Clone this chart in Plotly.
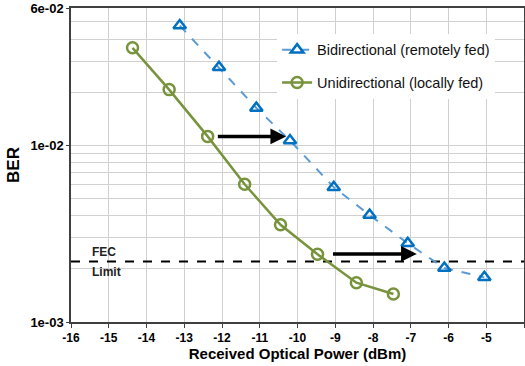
import numpy as np
import plotly.graph_objects as go

# Data
bi_x = [-13.12, -12.08, -11.09, -10.2, -9.04, -8.09, -7.08, -6.11, -5.05]
bi_ber = [0.0477, 0.0277, 0.0163, 0.01066, 0.0058, 0.00403, 0.00279, 0.00202, 0.00179]
uni_x = [-14.37, -13.4, -12.38, -11.4, -10.45, -9.47, -8.44, -7.46]
uni_ber = [0.0357, 0.0207, 0.01125, 0.00603, 0.00355, 0.00242, 0.00167, 0.00144]
fec_limit = 0.0022
arrow_tails = [(-12.15, 0.01125), (-9.10, 0.00243)]
arrow_heads = [(-10.30, 0.01125), (-6.84, 0.00243)]
x_ticks = list(range(-16, -3))
x_ticktext = ["-%d" % (-v) for v in x_ticks]
y_ticks = [1e-3, 1e-2, 6e-2]
y_ticktext = ["1e-03", "1e-02", "6e-02"]
y_minor = [2e-3, 3e-3, 4e-3, 5e-3, 6e-3, 7e-3, 8e-3, 9e-3, 2e-2, 3e-2, 4e-2, 5e-2]

FONT = "Liberation Sans, Arial"

fig = go.Figure()

fig.add_trace(go.Scatter(
    x=[-16, -4], y=[fec_limit, fec_limit], mode="lines",
    line=dict(color="black", width=2, dash="dash"), showlegend=False, hoverinfo="skip"))

fig.add_trace(go.Scatter(
    x=bi_x, y=bi_ber, mode="lines+markers", name="Bidirectional (remotely fed)",
    legendgroup="a",
    line=dict(color="#5B9BD5", width=2, dash="dash"),
    marker=dict(symbol="triangle-up-open", size=11, color="#0070C0", line=dict(width=2.5, color="#0070C0"))))

fig.add_trace(go.Scatter(
    x=uni_x, y=uni_ber, mode="lines+markers", name="Unidirectional (locally fed)",
    legendgroup="b",
    line=dict(color="#77933C", width=2.5),
    marker=dict(symbol="circle-open", size=11, color="#77933C", line=dict(width=2.5, color="#77933C"))))

annotations = []
for (tx, ty), (hx, hy) in zip(arrow_tails, arrow_heads):
    annotations.append(dict(
        x=hx, y=np.log10(hy), ax=tx, ay=np.log10(ty), xref="x", yref="y", axref="x", ayref="y",
        text="", showarrow=True, arrowhead=2, arrowsize=0.9, arrowwidth=3.5, arrowcolor="black", standoff=0, startstandoff=0))

annotations.append(dict(x=-15.5, y=np.log10(fec_limit), xref="x", yref="y", text="<b>FEC</b>",
                        showarrow=False, xanchor="left", yanchor="bottom", yshift=1,
                        font=dict(family=FONT, size=12, color="#222")))
annotations.append(dict(x=-15.5, y=np.log10(fec_limit), xref="x", yref="y", text="<b>Limit</b>",
                        showarrow=False, xanchor="left", yanchor="top", yshift=-1,
                        font=dict(family=FONT, size=12, color="#222")))

fig.update_layout(
    width=525, height=366,
    margin=dict(l=71, r=1, t=8, b=44),
    paper_bgcolor="white", plot_bgcolor="white",
    font=dict(family=FONT, color="black"),
    showlegend=True,
    legend=dict(x=0.455, y=0.918, xanchor="left", yanchor="top", bgcolor="white",
                font=dict(size=14.5, color="#111", family=FONT), tracegroupgap=11, itemwidth=30,
                borderwidth=0),
    annotations=annotations,
    xaxis=dict(
        range=[-16, -4], tickmode="array", tickvals=x_ticks,
        ticktext=["<b>%s</b>" % t for t in x_ticktext],
        showgrid=True, gridcolor="#D0D0D0", gridwidth=1,
        showline=True, linecolor="#404040", linewidth=1.5, mirror=True,
        ticks="outside", ticklen=4, tickcolor="#404040", automargin=False,
        tickfont=dict(size=12, family=FONT, color="black"), zeroline=False,
        title=dict(text="<b>Received Optical Power (dBm)</b>", font=dict(size=15), standoff=4)),
    yaxis=dict(
        type="log", range=[-3, np.log10(0.06)],
        tickmode="array", tickvals=y_ticks, ticktext=["<b>%s</b>" % t for t in y_ticktext],
        showgrid=True, gridcolor="#D0D0D0", gridwidth=1,
        minor=dict(tickmode="array", tickvals=y_minor, showgrid=True, gridcolor="#D0D0D0", gridwidth=1, ticks=""),
        showline=True, linecolor="#404040", linewidth=1.5, mirror=True,
        ticks="outside", ticklen=3, tickcolor="#404040", automargin=False,
        tickfont=dict(size=13, family=FONT, color="black"),
        title=dict(text="<b>BER</b>", font=dict(size=17), standoff=6)),
)

fig.write_html("out.html", config={"displayModeBar": False},
               post_script="document.body.style.margin='0';document.body.style.overflow='hidden';")
